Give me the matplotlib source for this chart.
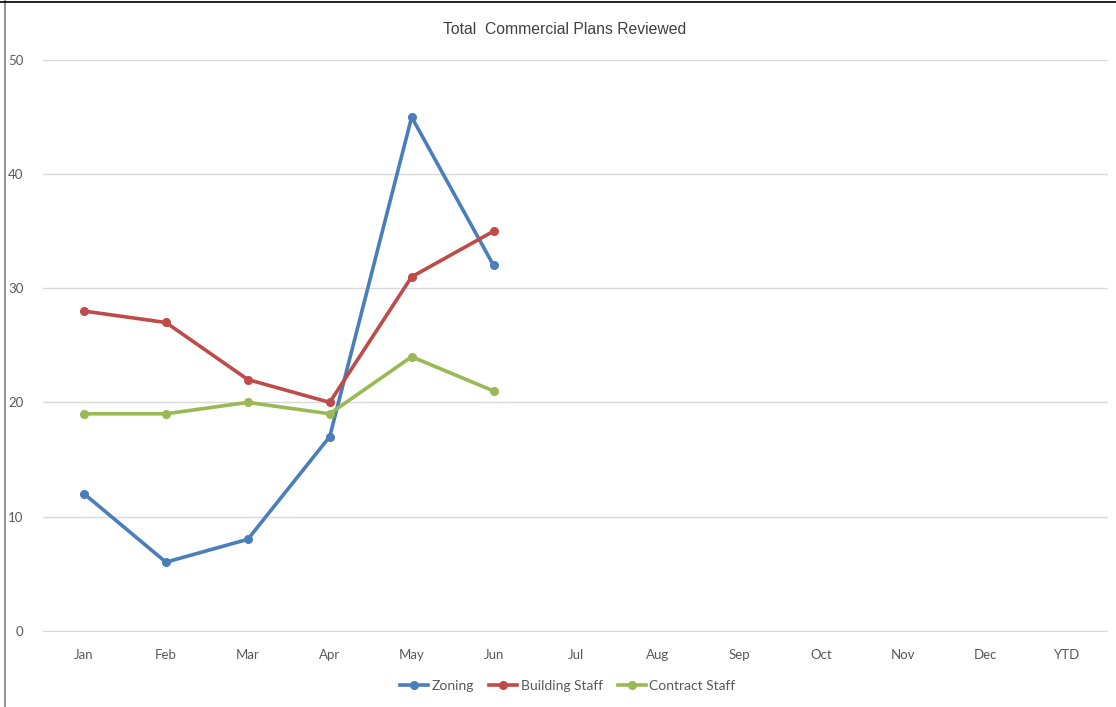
import matplotlib
matplotlib.use("Agg")
import matplotlib.pyplot as plt
from matplotlib.lines import Line2D

months = ["Jan", "Feb", "Mar", "Apr", "May", "Jun", "Jul", "Aug", "Sep", "Oct", "Nov", "Dec", "YTD"]
zoning = [12, 6, 8, 17, 45, 32]
building_staff = [28, 27, 22, 20, 31, 35]
contract_staff = [19, 19, 20, 19, 24, 21]
y_ticks = [0, 10, 20, 30, 40, 50]

series = [
    ("Zoning", zoning, "#4a7ebb"),
    ("Building Staff", building_staff, "#be4b48"),
    ("Contract Staff", contract_staff, "#98b954"),
]

plt.rcParams["font.family"] = ["Lato", "DejaVu Sans"]

W, H = 1116, 707
fig = plt.figure(figsize=(W / 100, H / 100), dpi=100)
ax = fig.add_axes([43 / W, 1 - 632 / H, (1108 - 43) / W, (632 - 60) / H])

x = list(range(len(months)))
for name, vals, color in series:
    ax.plot(x[:len(vals)], vals, color=color, lw=2.6, marker="o", ms=5.5,
            solid_capstyle="round", label=name, zorder=3)

ax.set_xlim(-0.5, len(months) - 0.5)
ax.set_ylim(-0.12, 50)
ax.set_yticks(y_ticks)
ax.set_xticks(x)
ax.set_xticklabels(months)
ax.yaxis.grid(True, color="#d9d9d9", lw=1)
ax.set_axisbelow(True)
for s in ax.spines.values():
    s.set_visible(False)
ax.tick_params(length=0, colors="#595959", labelsize=9.5)
ax.tick_params(axis="y", pad=14)
ax.tick_params(axis="x", pad=12)

fig.text(565 / W, 1 - 29 / H, "Total  Commercial Plans Reviewed",
         ha="center", va="center", fontsize=11.3, color="#404040",
         family=["Liberation Sans Narrow", "Liberation Sans", "DejaVu Sans"])

handles = [Line2D([], [], color=c, lw=2.6, marker="o", ms=5.5) for _, _, c in series]
fig.legend(handles, [n for n, _, _ in series], loc="center",
           bbox_to_anchor=(568 / W, 1 - 686 / H), ncol=3, frameon=False,
           fontsize=10, labelcolor="#595959", handlelength=2.0,
           handletextpad=0.25, columnspacing=1.1)

# frame lines on the left and top edges
fig.add_artist(Line2D([4.5 / W, 4.5 / W], [0, 1], color="#808080", lw=1.2))
fig.add_artist(Line2D([0, 1], [1 - 1.5 / H, 1 - 1.5 / H], color="#000000", lw=1.2))

fig.savefig("out.png", dpi=100, facecolor="white")
